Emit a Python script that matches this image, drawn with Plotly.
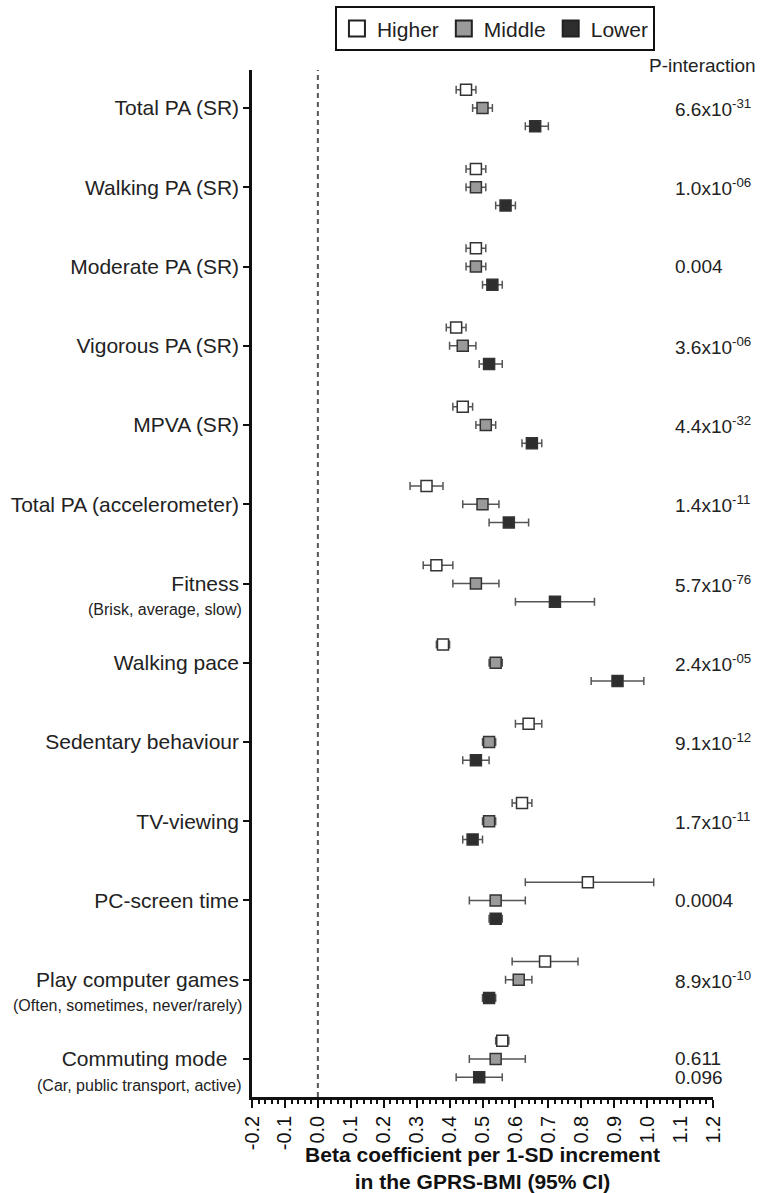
import plotly.graph_objects as go

# ---------------- data ----------------
categories = ["Total PA (SR)", "Walking PA (SR)", "Moderate PA (SR)", "Vigorous PA (SR)",
              "MPVA (SR)", "Total PA (accelerometer)", "Fitness", "Walking pace",
              "Sedentary behaviour", "TV-viewing", "PC-screen time",
              "Play computer games", "Commuting mode"]
subtitles = ["", "", "", "", "", "", "(Brisk, average, slow)", "", "", "", "",
             "(Often, sometimes, never/rarely)", "(Car, public transport, active)"]

groups = ["Higher", "Middle", "Lower"]

higher_est = [0.45, 0.48, 0.48, 0.42, 0.44, 0.33, 0.36, 0.38, 0.64, 0.62, 0.82, 0.69, 0.56]
higher_lo  = [0.42, 0.45, 0.45, 0.39, 0.41, 0.28, 0.32, 0.36, 0.60, 0.59, 0.63, 0.59, 0.54]
higher_hi  = [0.48, 0.51, 0.51, 0.45, 0.47, 0.38, 0.41, 0.40, 0.68, 0.65, 1.02, 0.79, 0.58]

middle_est = [0.50, 0.48, 0.48, 0.44, 0.51, 0.50, 0.48, 0.54, 0.52, 0.52, 0.54, 0.61, 0.54]
middle_lo  = [0.47, 0.45, 0.45, 0.40, 0.48, 0.44, 0.41, 0.52, 0.50, 0.50, 0.46, 0.57, 0.46]
middle_hi  = [0.53, 0.51, 0.51, 0.48, 0.54, 0.55, 0.55, 0.56, 0.54, 0.54, 0.63, 0.65, 0.63]

lower_est = [0.66, 0.57, 0.53, 0.52, 0.65, 0.58, 0.72, 0.91, 0.48, 0.47, 0.54, 0.52, 0.49]
lower_lo  = [0.63, 0.54, 0.50, 0.49, 0.62, 0.52, 0.60, 0.83, 0.44, 0.44, 0.52, 0.50, 0.42]
lower_hi  = [0.70, 0.60, 0.56, 0.56, 0.68, 0.64, 0.84, 0.99, 0.52, 0.50, 0.56, 0.54, 0.56]

p_values = ["6.6x10<sup>-31</sup>", "1.0x10<sup>-06</sup>", "0.004", "3.6x10<sup>-06</sup>",
            "4.4x10<sup>-32</sup>", "1.4x10<sup>-11</sup>", "5.7x10<sup>-76</sup>",
            "2.4x10<sup>-05</sup>", "9.1x10<sup>-12</sup>", "1.7x10<sup>-11</sup>",
            "0.0004", "8.9x10<sup>-10</sup>", "0.611"]
extra_p_value = "0.096"   # second P-value for commuting mode (lower row)

x_ticks = [-0.2, -0.1, 0.0, 0.1, 0.2, 0.3, 0.4, 0.5, 0.6, 0.7, 0.8, 0.9, 1.0, 1.1, 1.2]
x_ticklabels = [f"{v:.1f}" for v in x_ticks]

# ---------------- styling ----------------
FONT = "Liberation Sans, Arial, sans-serif"
fills = {"Higher": "#ffffff", "Middle": "#9a9a9a", "Lower": "#2e2e2e"}
offsets = {"Higher": -0.23, "Middle": 0.0, "Lower": 0.23}
series = {
    "Higher": (higher_est, higher_lo, higher_hi),
    "Middle": (middle_est, middle_lo, middle_hi),
    "Lower": (lower_est, lower_lo, lower_hi),
}

fig = go.Figure()
idx = list(range(len(categories)))

for g in groups:
    est, lo, hi = series[g]
    fig.add_trace(go.Scatter(
        x=est,
        y=[i + offsets[g] for i in idx],
        mode="markers",
        marker=dict(symbol="square", size=11, color=fills[g],
                    line=dict(color="#333333", width=1.5)),
        error_x=dict(type="data", symmetric=False,
                     array=[h - e for h, e in zip(hi, est)],
                     arrayminus=[e - l for e, l in zip(est, lo)],
                     color="#555555", thickness=1.5, width=4),
        showlegend=False,
        name=g,
    ))

# legend-only traces
for g in groups:
    fig.add_trace(go.Scatter(
        x=[None], y=[None], mode="markers", name=g,
        marker=dict(symbol="square", size=16, color=fills[g],
                    line=dict(color="#222222", width=2)),
    ))

annotations = []
# subtitles
for i, s in enumerate(subtitles):
    if s:
        annotations.append(dict(
            x=0, xref="paper", y=i + 0.33, yref="y", text=s, showarrow=False,
            xanchor="right", yanchor="middle", xshift=-8,
            font=dict(family=FONT, size=16, color="#222222")))
# p-values
for i, p in enumerate(p_values):
    annotations.append(dict(
        x=0.913, xref="paper", y=i, yref="y", text=p, showarrow=False,
        xanchor="left", yanchor="middle",
        font=dict(family=FONT, size=19, color="#222222")))
annotations.append(dict(
    x=0.913, xref="paper", y=len(categories) - 1 + offsets["Lower"], yref="y",
    text=extra_p_value, showarrow=False, xanchor="left", yanchor="middle",
    font=dict(family=FONT, size=19, color="#222222")))
annotations.append(dict(
    x=1.098, xref="paper", y=1.004, yref="paper", text="P-interaction",
    showarrow=False, xanchor="right", yanchor="middle",
    font=dict(family=FONT, size=19, color="#222222")))

ticktext = [c + ("\u00a0\u00a0" if c == "Commuting mode" else "") for c in categories]

fig.update_layout(
    template="none",
    width=761, height=1193,
    margin=dict(l=252, r=48, t=70, b=96, autoexpand=False),
    paper_bgcolor="white", plot_bgcolor="white",
    font=dict(family=FONT, size=20, color="#222222"),
    showlegend=True,
    legend=dict(orientation="h", x=0.527, xanchor="center", y=1.062, yanchor="top",
                bordercolor="#111111", borderwidth=2,
                font=dict(family=FONT, size=21, color="#222222"),
                itemclick=False, itemdoubleclick=False),
    annotations=annotations,
    shapes=[dict(type="line", xref="x", yref="paper", x0=0, x1=0, y0=0, y1=1,
                 line=dict(color="#555555", width=2, dash="5px,4px"))],
)

fig.update_xaxes(
    automargin=False,
    range=[-0.2, 1.2], tickvals=x_ticks, ticktext=x_ticklabels, tickangle=-90,
    showline=True, linecolor="#111111", linewidth=2.5, mirror=False,
    ticks="outside", ticklen=8, tickwidth=2, tickcolor="#111111",
    minor=dict(dtick=0.02, tick0=0, ticks="outside", ticklen=4, tickwidth=1.5,
               tickcolor="#111111", showgrid=False),
    showgrid=False, zeroline=False,
    tickfont=dict(family=FONT, size=20, color="#111111"),
    title=dict(text="<b>Beta coefficient per 1-SD increment<br>in the GPRS-BMI (95% CI)</b>",
               font=dict(family=FONT, size=21, color="#111111"), standoff=6),
)
fig.update_yaxes(
    automargin=False,
    range=[12.48, -0.48], tickvals=idx, ticktext=ticktext,
    showline=True, linecolor="#111111", linewidth=2.5,
    ticks="outside", ticklen=6, tickwidth=1.5, tickcolor="#111111",
    showgrid=False, zeroline=False,
    tickfont=dict(family=FONT, size=21, color="#222222"),
)

fig.write_html("out.html")
